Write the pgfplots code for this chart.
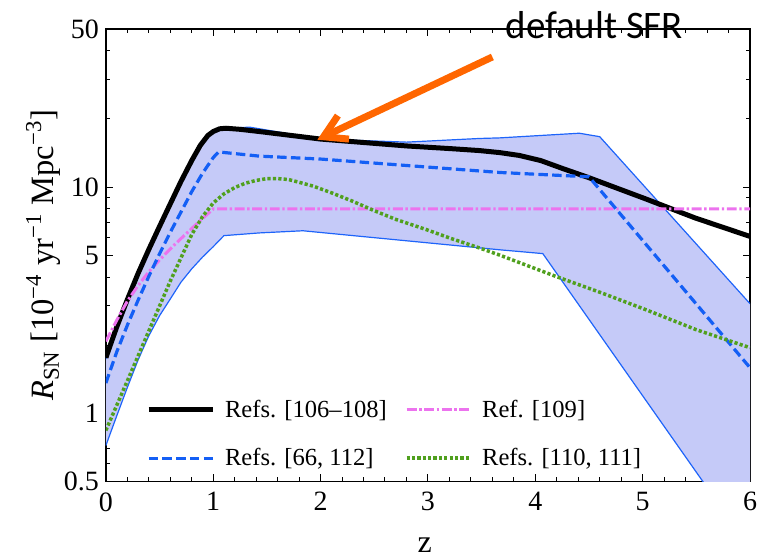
\documentclass[border=0pt]{standalone}
\usepackage{pgfplots}
\pgfplotsset{compat=1.18}
\usepgfplotslibrary{fillbetween}
\usetikzlibrary{arrows.meta}
\usepackage{fontspec}
\setmainfont{Liberation Serif}
\newfontfamily\calib{Carlito}
\definecolor{bandfill}{RGB}{197,202,248}
\definecolor{bandedge}{RGB}{30,100,250}
\definecolor{bluedash}{RGB}{20,95,245}
\definecolor{magen}{RGB}{236,115,238}
\definecolor{greendot}{RGB}{80,160,30}
\definecolor{orangearr}{RGB}{255,102,0}
\begin{document}
\begin{tikzpicture}
\begin{axis}[
  scale only axis, width=322.5pt, height=226.5pt,
  at={(0,0)}, anchor=south west,
  ymode=log, xmin=0, xmax=6, ymin=0.5, ymax=50,
  xtick={0,1,2,3,4,5,6}, minor x tick num=4,
  ytick={0.5,1,5,10,50}, yticklabels={0.5,1,5,10,50},
  minor ytick={0.6,0.7,0.8,0.9,2,3,4,6,7,8,9,20,30,40},
  tick align=inside, tick pos=both,
  major tick length=3.5pt, minor tick length=2pt,
  /pgf/number format/assume math mode=true,
  ticklabel style={font=\fontsize{14}{16}\selectfont},
  xticklabel style={yshift=-2pt, inner xsep=0pt},
  axis line style={line width=0.7pt}, tick style={line width=0.5pt, black},
  xlabel={z}, xlabel style={font=\fontsize{16}{18}\selectfont, at={(axis description cs:0.495,-0.142)}, anchor=center},
  ylabel={\textit{R}\textsubscript{SN} [10\textsuperscript{\char"2212 4} yr\textsuperscript{\char"2212 1} Mpc\textsuperscript{\char"2212 3}]},
  ylabel style={font=\fontsize{16.3}{18}\selectfont, at={(axis description cs:-0.097,0.5)}, anchor=center},
  legend columns=2,
  legend style={draw=none, fill=none, at={(axis description cs:0.062,0.19)}, anchor=north west,
    font=\fontsize{12.3}{14}\selectfont, row sep=10pt, inner sep=0pt,
    /tikz/every even column/.append style={column sep=7pt}},
  legend cell align=left,
  legend image code/.code={\draw[#1] (0pt,0pt) -- (32pt,0pt); \path (35pt,0pt);},
]
\addplot[name path=up, draw=bandedge, line width=0.6pt, forget plot] coordinates {
(0,1.74) (0.1,2.36) (0.2,3.12) (0.3,4.07) (0.4,5.2) (0.5,6.57) (0.6,8.27) (0.7,10.4) (0.8,12.9) (0.88,15.0) (0.95,16.6) (1.0,17.4) (1.06,18.0) (1.12,18.2) (1.34,18.4) (2.0,16.3) (2.8,15.8) (3.48,16.4) (3.67,16.5) (4.41,17.3) (4.6,16.7) (6,3.05)};
\addplot[name path=lo, draw=bandedge, line width=0.6pt, forget plot] coordinates {
(0,0.72) (0.1,0.97) (0.2,1.3) (0.3,1.72) (0.4,2.2) (0.5,2.7) (0.6,3.2) (0.7,3.8) (0.8,4.35) (0.9,4.9) (1.0,5.45) (1.1,6.1) (1.43,6.27) (1.835,6.41) (3.67,5.28) (4.07,5.08) (5.56,0.5) (6,0.25)};
\addplot[bandfill, forget plot] fill between[of=up and lo];
\addplot[black, line width=2.5pt] coordinates {
(0,1.76) (0.1,2.40) (0.2,3.18) (0.3,4.15) (0.4,5.30) (0.5,6.70) (0.6,8.43) (0.7,10.6) (0.8,13.1) (0.88,15.3) (0.95,16.9) (1.0,17.6) (1.06,18.1) (1.12,18.2) (1.25,18.0) (1.43,17.6) (2.0,16.3) (2.8,15.2) (3.2,14.8) (3.48,14.5) (3.67,14.2) (3.85,13.8) (4.05,13.1) (4.25,12.1) (4.5,11.0) (5.03,8.86) (5.49,7.3) (6,6.05)};
\addlegendentry{Refs. [106\textendash108]}
\addplot[magen, line width=1.5pt, dash pattern=on 5pt off 1.3pt on 1.2pt off 1.3pt] coordinates {
(0,2.08) (0.1,2.57) (0.2,3.13) (0.3,3.67) (0.4,4.22) (0.5,4.76) (0.6,5.33) (0.7,5.92) (0.8,6.56) (0.9,7.26) (1.0,8.0) (6,8.0)};
\addlegendentry{Ref. [109]}
\addplot[bluedash, line width=1.6pt, dash pattern=on 4.7pt off 2.2pt] coordinates {
(0,1.36) (0.1,1.86) (0.2,2.45) (0.3,3.16) (0.4,4.03) (0.5,5.07) (0.6,6.31) (0.7,7.76) (0.8,9.55) (0.9,11.5) (1.0,13.5) (1.05,14.3) (1.43,13.7) (2.0,13.3) (3.67,11.6) (4.5,11.1) (6,1.59)};
\addlegendentry{Refs. [66, 112]}
\addplot[greendot, line width=1.75pt, dash pattern=on 1.6pt off 1.1pt] coordinates {
(0,0.84) (0.2,1.39) (0.4,2.31) (0.6,3.84) (0.8,6.17) (0.9,7.4) (1.0,8.5) (1.1,9.33) (1.2,9.95) (1.3,10.4) (1.4,10.7) (1.5,10.9) (1.6,10.9) (1.7,10.8) (1.8,10.5) (1.93,10.1) (2.1,9.44) (2.3,8.65) (2.49,7.9) (2.7,7.2) (2.98,6.5) (3.2,5.96) (3.48,5.38) (3.67,5.0) (4.19,4.03) (4.6,3.43) (5.03,2.87) (5.5,2.34) (6,1.95)};
\addlegendentry{Refs. [110, 111]}
\coordinate (tail) at (axis cs:3.6,37.6);
\coordinate (tip) at (axis cs:1.97,16.2);
\coordinate (lab) at (axis cs:4.55,45.6);
\end{axis}
\draw[orangearr, line width=3.5pt, -{Straight Barb[length=11pt,width=13pt]}] (tail) -- (tip);
\node[font=\calib\fontsize{19.5}{21}\selectfont, inner sep=0pt, anchor=base] at (lab) {default SFR};
\path (-53pt,-35.5pt) rectangle (326pt,241pt);
\end{tikzpicture}
\end{document}
